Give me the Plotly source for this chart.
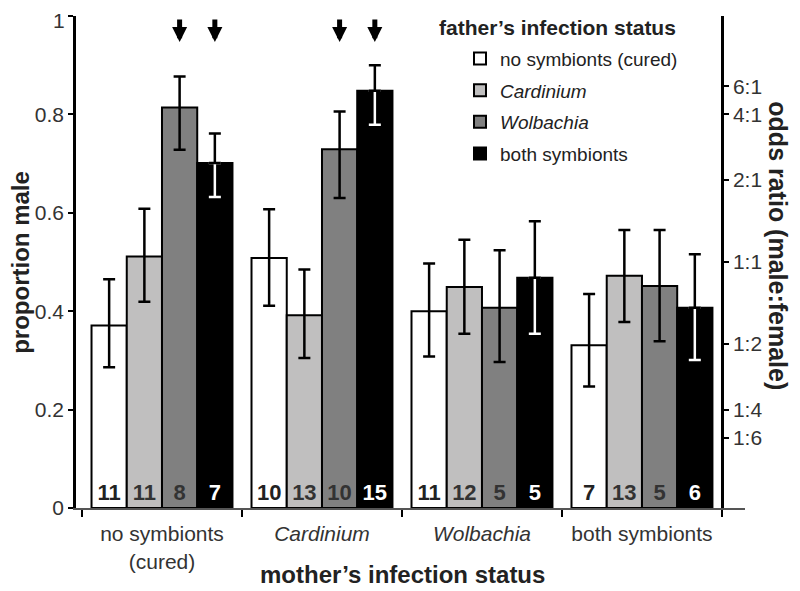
import plotly.graph_objects as go

# ---------------- data ----------------
mother_groups = ["no symbionts<br>(cured)", "<i>Cardinium</i>", "<i>Wolbachia</i>", "both symbionts"]
father_status = ["no symbionts (cured)", "<i>Cardinium</i>", "<i>Wolbachia</i>", "both symbionts"]

prop_none = [0.371, 0.508, 0.400, 0.331]
prop_card = [0.511, 0.392, 0.449, 0.472]
prop_wolb = [0.814, 0.729, 0.407, 0.451]
prop_both = [0.701, 0.848, 0.468, 0.407]

upper_none = [0.465, 0.607, 0.497, 0.435]
upper_card = [0.608, 0.485, 0.545, 0.565]
upper_wolb = [0.877, 0.806, 0.524, 0.565]
upper_both = [0.761, 0.900, 0.583, 0.516]

lower_none = [0.286, 0.411, 0.308, 0.247]
lower_card = [0.419, 0.305, 0.354, 0.378]
lower_wolb = [0.728, 0.630, 0.297, 0.339]
lower_both = [0.632, 0.779, 0.354, 0.301]

n_none = [11, 10, 11, 7]
n_card = [11, 13, 12, 13]
n_wolb = [8, 10, 5, 5]
n_both = [7, 15, 5, 6]

# significant cells marked with arrows: (mother group index, father series index)
arrow_cells = [(0, 2), (0, 3), (1, 2), (1, 3)]
arrow_tip = 0.947
arrow_tail = 0.996

odds_labels = ["6:1", "4:1", "2:1", "1:1", "1:2", "1:4", "1:6"]
odds_male = [6, 4, 2, 1, 1, 1, 1]
odds_female = [1, 1, 1, 1, 2, 4, 6]

left_ticks = [0, 0.2, 0.4, 0.6, 0.8, 1]
left_ticktext = ["0", "0.2", "0.4", "0.6", "0.8", "1"]

# ---------------- style ----------------
fills = ["#ffffff", "#c0bfbf", "#808080", "#000000"]
num_colors = ["#222222", "#333333", "#333333", "#ffffff"]
FONT = "Liberation Sans, Arial, sans-serif"
NARROW = "Liberation Sans Narrow, Arial Narrow, Liberation Sans, sans-serif"
bargap = 0.119
x_min, x_max = -0.5375, 3.644

props = [prop_none, prop_card, prop_wolb, prop_both]
uppers = [upper_none, upper_card, upper_wolb, upper_both]
lowers = [lower_none, lower_card, lower_wolb, lower_both]
ns = [n_none, n_card, n_wolb, n_both]

fig = go.Figure()
for j in range(4):
    err_up = [u - p for u, p in zip(uppers[j], props[j])]
    err_dn = [p - l for p, l in zip(props[j], lowers[j])]
    last = j == 3
    fig.add_trace(go.Bar(
        x=mother_groups, y=props[j], name=father_status[j],
        offsetgroup="g%d" % j, legendgroup="g%d" % j,
        marker=dict(color=fills[j], line=dict(color="#000000", width=2)),
        text=ns[j], textposition="inside", insidetextanchor="start", textangle=0,
        textfont=dict(family=NARROW, size=22, color=num_colors[j], weight="bold"),
        error_y=dict(type="data", symmetric=False,
                     array=[0] * 4 if last else err_up,
                     arrayminus=err_dn,
                     color="#ffffff" if last else "#000000",
                     thickness=2.5, width=6),
        hoverinfo="skip",
    ))

# black upper whiskers for the black bars (drawn on top)
fig.add_trace(go.Bar(
    x=mother_groups, y=prop_both, offsetgroup="g3", showlegend=False,
    marker=dict(color="rgba(0,0,0,0)", line=dict(width=0)),
    error_y=dict(type="data", symmetric=False,
                 array=[u - p for u, p in zip(upper_both, prop_both)],
                 arrayminus=[0] * 4, color="#000000", thickness=2.5, width=6),
    hoverinfo="skip",
))
# dummy trace to register right axis
fig.add_trace(go.Scatter(x=[None], y=[None], yaxis="y2", showlegend=False, hoverinfo="skip"))

slot = (1 - bargap) / 4
annotations = []
for gi, sj in arrow_cells:
    xpos = gi + (sj - 1.5) * slot
    annotations.append(dict(
        x=xpos, y=arrow_tip, ax=xpos, ay=arrow_tail, xref="x", yref="y", axref="x", ayref="y",
        text="", showarrow=True, arrowhead=2, arrowwidth=5, arrowsize=0.6, arrowcolor="#000000",
        standoff=0, startstandoff=0,
    ))

# top left tick label, set slightly lower as in the original
annotations.append(dict(
    x=0, y=left_ticks[-1], xref="paper", yref="y", xanchor="right", yanchor="middle",
    xshift=-9, yshift=-4, text=left_ticktext[-1], showarrow=False,
    font=dict(family=FONT, size=21, color="#333333"),
))
annotations.append(dict(
    x=0.54, y=0.976, xref="paper", yref="paper", xanchor="left", yanchor="middle",
    text="<b>father’s infection status</b>", showarrow=False,
    font=dict(family=FONT, size=21, color="#222222"),
))
annotations.append(dict(
    x=1.05, y=0.533, xref="paper", yref="paper", xanchor="center", yanchor="middle",
    text="<b>odds ratio (male:female)</b>", textangle=90, showarrow=False,
    font=dict(family=FONT, size=25, color="#222222"),
))
annotations.append(dict(
    x=0.488, y=-0.135, xref="paper", yref="paper", xanchor="center", yanchor="middle",
    text="<b>mother’s infection status</b>", showarrow=False,
    font=dict(family=FONT, size=24, color="#222222"),
))
annotations.append(dict(
    x=-0.084, y=0.5, xref="paper", yref="paper", xanchor="center", yanchor="middle",
    text="<b>proportion male</b>", textangle=-90, showarrow=False,
    font=dict(family=FONT, size=24, color="#222222"),
))

fig.update_layout(
    width=792, height=583,
    margin=dict(l=68, r=55, t=8, b=83, autoexpand=False),
    paper_bgcolor="white", plot_bgcolor="white",
    barmode="group", bargap=bargap, bargroupgap=0,
    font=dict(family=FONT, color="#333333"),
    showlegend=True,
    legend=dict(x=0.574, y=0.952, xanchor="left", yanchor="top",
                font=dict(family=FONT, size=19, color="#222222"),
                bgcolor="rgba(0,0,0,0)", traceorder="grouped",
                tracegroupgap=4, itemclick=False),
    annotations=annotations,
    xaxis=dict(
        range=[x_min, x_max], type="category", automargin=False,
        showline=True, linecolor="#555555", linewidth=2,
        ticks="outside", tickson="boundaries", ticklen=7, tickwidth=2, tickcolor="#000000",
        ticklabelstandoff=6,
        tickfont=dict(family=FONT, size=21, color="#333333"),
        showgrid=False, zeroline=False,
    ),
    yaxis=dict(
        range=[0, 1], tickvals=left_ticks, ticktext=left_ticktext[:-1] + [""], automargin=False,
        showline=True, linecolor="#000000", linewidth=2.5,
        ticks="outside", ticklen=5, tickwidth=2, tickcolor="#000000",
        tickfont=dict(family=FONT, size=21, color="#333333"),
        showgrid=False, zeroline=False,
    ),
    yaxis2=dict(
        range=[0, 1], overlaying="y", side="right", anchor="free", automargin=False,
        position=(3.5 - x_min) / (x_max - x_min),
        tickvals=[m / (m + f) for m, f in zip(odds_male, odds_female)],
        ticktext=odds_labels, ticklabeloverflow="allow",
        showline=True, linecolor="#000000", linewidth=2.5,
        ticks="outside", ticklen=5, tickwidth=2, tickcolor="#000000",
        tickfont=dict(family=FONT, size=21, color="#333333"),
        showgrid=False, zeroline=False,
    ),
)

fig.write_html("out.html")
